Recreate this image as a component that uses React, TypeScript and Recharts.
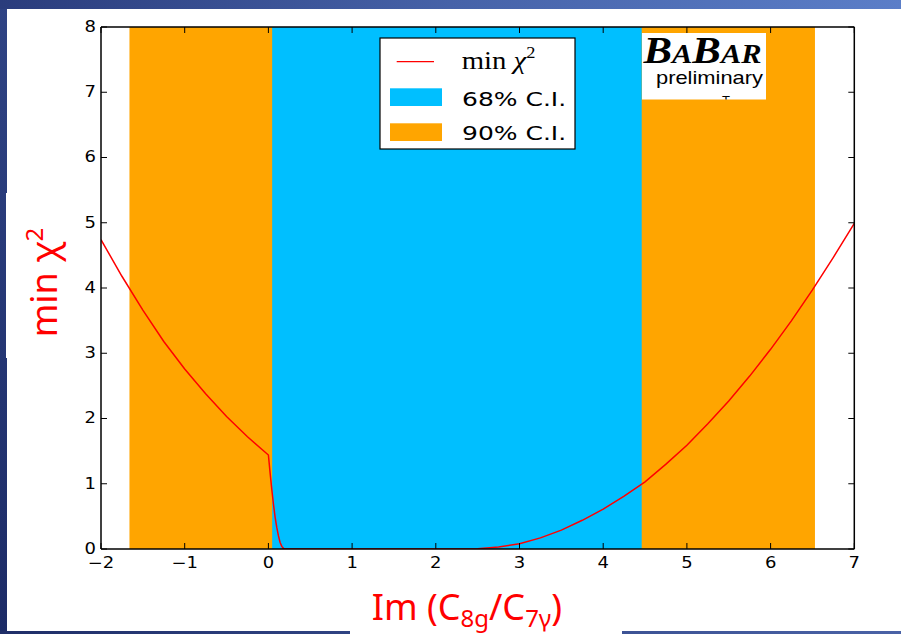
import React from 'react';
import {
  ComposedChart,
  Line,
  XAxis,
  YAxis,
  ReferenceArea,
} from 'recharts';

// Scan of min chi^2 versus Im(C8g/C7gamma)
const CHI_X = [
  -2, -1.75, -1.5, -1.25, -1, -0.75, -0.5, -0.25, 0,
  0.02, 0.04, 0.06, 0.08, 0.1, 0.12, 0.14, 0.16, 0.18, 0.2,
  0.6, 1, 1.4, 1.8, 2.2, 2.4,
  2.5, 2.75, 3, 3.25, 3.5, 3.75, 4, 4.25, 4.5, 4.75, 5, 5.25, 5.5, 5.75, 6, 6.25, 6.5, 6.75, 7,
];
const CHI_MIN = [
  4.74, 4.18, 3.66, 3.18, 2.76, 2.38, 2.03, 1.72, 1.44,
  1.17, 0.92, 0.69, 0.49, 0.33, 0.2, 0.1, 0.04, 0.01, 0,
  0, 0, 0, 0, 0, 0,
  0.004, 0.03, 0.08, 0.17, 0.29, 0.44, 0.61, 0.81, 1.03, 1.3, 1.59, 1.92, 2.27, 2.65, 3.06, 3.5, 3.97, 4.47, 4.99,
];

// Confidence intervals [from, to]
const CI_68 = [0.045, 4.46];
const CI_90 = [-1.66, 6.53];

const X_TICKS = [-2, -1, 0, 1, 2, 3, 4, 5, 6, 7];
const Y_TICKS = [0, 1, 2, 3, 4, 5, 6, 7, 8];

const CURVE_LABEL = 'min';
const CI_LABELS = ['68% C.I.', '90% C.I.'];

const RED = '#ff0000';
const SKY = '#00bfff';
const ORANGE = '#ffa500';

const data = CHI_X.map((x, i) => ({ x, chi2: CHI_MIN[i] }));

const fmt = (v: number) => (v < 0 ? '\u2212' + Math.abs(v) : String(v));

const TICK_FONT = '"DejaVu Sans", sans-serif';

function SText(props: any) {
  const { x, y, anchor = 'start', sx = 1.2, size = 15, family = TICK_FONT, fill = '#000', children } = props;
  return (
    <text
      transform={`translate(${x},${y}) scale(${sx},1)`}
      textAnchor={anchor}
      fontSize={size}
      fontFamily={family}
      fill={fill}
    >
      {children}
    </text>
  );
}

const TICK_LEN = 6;

function BottomTick(props: any) {
  const { x, y, payload } = props;
  return (
    <g>
      <line x1={x} x2={x} y1={y} y2={y - TICK_LEN} stroke="#000" strokeWidth={1} />
      <SText x={x} y={y + 19} anchor="middle">{fmt(payload.value)}</SText>
    </g>
  );
}

function TopTick(props: any) {
  const { x, y } = props;
  return <line x1={x} x2={x} y1={y} y2={y + TICK_LEN} stroke="#000" strokeWidth={1} />;
}

function LeftTick(props: any) {
  const { x, y, payload } = props;
  return (
    <g>
      <line x1={x} x2={x + TICK_LEN} y1={y} y2={y} stroke="#000" strokeWidth={1} />
      <SText x={x - 5} y={y + 4.8} anchor="end">{fmt(payload.value)}</SText>
    </g>
  );
}

function RightTick(props: any) {
  const { x, y } = props;
  return <line x1={x} x2={x - TICK_LEN} y1={y} y2={y} stroke="#000" strokeWidth={1} />;
}

// Legend, experiment tag and axis titles, drawn over the plot
function Overlay() {
  const lx = 380;
  const ly = 38;
  return (
    <svg width={901} height={634} style={{ position: 'absolute', left: 0, top: 0, pointerEvents: 'none' }}>
      <rect x={lx} y={ly} width={195} height={111} fill="#fff" stroke="#000" strokeWidth={1.2} />
      <line x1={lx + 16.7} x2={lx + 54} y1={ly + 23.7} y2={ly + 23.7} stroke={RED} strokeWidth={1.2} />
      <text
        transform={`translate(${lx + 81.7},${ly + 31.3}) scale(1.15,1)`}
        fontFamily='"Liberation Serif", "DejaVu Serif", serif'
        fontSize={25}
        fill="#000"
      >
        {CURVE_LABEL}{' '}
        <tspan fontStyle="italic">χ</tspan>
        <tspan dy={-11} fontSize={16}>2</tspan>
      </text>
      <rect x={lx + 10} y={ly + 50.3} width={52} height={17.7} fill={SKY} />
      <SText x={lx + 82} y={ly + 68} size={20} sx={1.25}>{CI_LABELS[0]}</SText>
      <rect x={lx + 10} y={ly + 85.3} width={52} height={17.7} fill={ORANGE} />
      <SText x={lx + 82} y={ly + 102} size={20} sx={1.25}>{CI_LABELS[1]}</SText>

      <defs>
        <clipPath id="tagClip">
          <rect x={642} y={33} width={124} height={66.5} />
        </clipPath>
      </defs>
      <rect x={642} y={33} width={124} height={66.5} fill="#fff" />
      <g clipPath="url(#tagClip)">
        <text
          x={643.5}
          y={62.5}
          fontFamily='"Liberation Serif", "Times New Roman", serif'
          fontWeight="bold"
          fontStyle="italic"
          fill="#000"
          textLength={118}
          lengthAdjust="spacingAndGlyphs"
        >
          <tspan fontSize={38}>B</tspan>
          <tspan fontSize={27}>A</tspan>
          <tspan fontSize={38}>B</tspan>
          <tspan fontSize={27}>AR</tspan>
        </text>
        <text
          x={656}
          y={83.8}
          fontFamily='"Liberation Sans", Arial, sans-serif'
          fontSize={19}
          fill="#000"
          textLength={107}
          lengthAdjust="spacingAndGlyphs"
        >
          preliminary
        </text>
        <text x={726} y={104.5} textAnchor="middle" fontFamily='"Liberation Sans", Arial, sans-serif' fontSize={13} fill="#000">
          T
        </text>
      </g>

      <text
        transform="translate(57,282.5) rotate(-90)"
        textAnchor="middle"
        fontFamily='"Noto Sans", sans-serif'
        fontSize={36}
        fill={RED}
      >
        min χ<tspan dy={-14} fontSize={24}>2</tspan>
      </text>
      <text x={371.7} y={620} fontFamily='"Noto Sans", sans-serif' fontSize={36} fill={RED}>
        Im (C<tspan dy={7} fontSize={24}>8g</tspan>
        <tspan dy={-7} fontSize={36}>/C</tspan>
        <tspan dy={7} fontSize={24}>7γ</tspan>
        <tspan dy={-7} fontSize={36}>)</tspan>
      </text>
    </svg>
  );
}

export default function App() {
  return (
    <div
      style={{
        position: 'absolute',
        left: 0,
        top: 0,
        width: 901,
        height: 634,
        overflow: 'hidden',
        background: 'linear-gradient(to bottom, #2f4384, #1c2b66)',
      }}
    >
      {/* slide frame */}
      <div style={{ position: 'absolute', left: 0, top: 0, width: 901, height: 9, background: 'linear-gradient(to right, #2a3c7c, #4662a8 50%, #5b7ec8)' }} />
      <div style={{ position: 'absolute', left: 0, top: 631, width: 901, height: 3, background: 'linear-gradient(to right, #1f2e68, #34498a 50%, #4a62a6)' }} />
      <div style={{ position: 'absolute', left: 7, top: 9, width: 894, height: 622, background: '#fff' }} />
      <div style={{ position: 'absolute', left: 6, top: 193, width: 14, height: 165, background: '#fff' }} />
      <div style={{ position: 'absolute', left: 350, top: 600, width: 272, height: 34, background: '#fff' }} />

      <div style={{ position: 'absolute', left: 0, top: 0 }}>
        <ComposedChart
          width={901}
          height={634}
          data={data}
          margin={{ top: 26, right: 36.7, bottom: 55, left: 61 }}
        >
          <ReferenceArea x1={CI_90[0]} x2={CI_90[1]} y1={0} y2={8} fill={ORANGE} fillOpacity={1} stroke="none" />
          <ReferenceArea x1={CI_68[0]} x2={CI_68[1]} y1={0} y2={8} fill={SKY} fillOpacity={1} stroke="none" />
          <Line
            type="linear"
            dataKey="chi2"
            stroke={RED}
            strokeWidth={1.5}
            dot={false}
            activeDot={false}
            isAnimationActive={false}
          />
          <XAxis
            dataKey="x"
            type="number"
            domain={[-2, 7]}
            ticks={X_TICKS}
            interval={0}
            allowDataOverflow
            height={30}
            tickSize={0}
            tickMargin={0}
            axisLine={{ stroke: '#000', strokeWidth: 1.5 }}
            tickLine={false}
            tick={<BottomTick />}
          />
          <XAxis
            xAxisId="top"
            orientation="top"
            dataKey="x"
            type="number"
            domain={[-2, 7]}
            ticks={X_TICKS}
            interval={0}
            allowDataOverflow
            height={1}
            tickSize={0}
            tickMargin={0}
            axisLine={{ stroke: '#000', strokeWidth: 1.5 }}
            tickLine={false}
            tick={<TopTick />}
          />
          <YAxis
            type="number"
            domain={[0, 8]}
            ticks={Y_TICKS}
            interval={0}
            allowDataOverflow
            width={40}
            tickSize={0}
            tickMargin={0}
            axisLine={{ stroke: '#000', strokeWidth: 1.5 }}
            tickLine={false}
            tick={<LeftTick />}
          />
          <YAxis
            yAxisId="right"
            orientation="right"
            type="number"
            domain={[0, 8]}
            ticks={Y_TICKS}
            interval={0}
            allowDataOverflow
            width={10}
            tickSize={0}
            tickMargin={0}
            axisLine={{ stroke: '#000', strokeWidth: 1.5 }}
            tickLine={false}
            tick={<RightTick />}
          />
        </ComposedChart>
      </div>
      <Overlay />
    </div>
  );
}
